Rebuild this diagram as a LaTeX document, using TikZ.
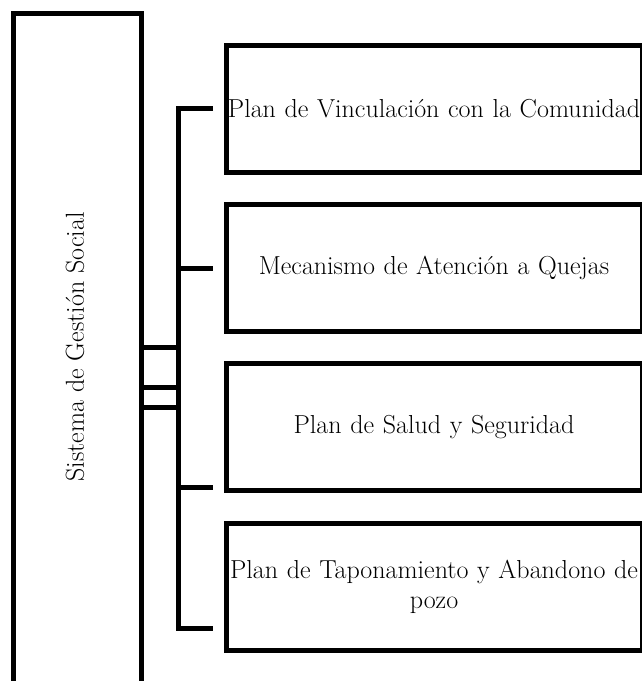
\documentclass[tikz,border=0pt]{standalone}
\begin{document}
\begin{tikzpicture}[
  x=1pt, y=-1pt,
  font=\fontsize{26}{30}\selectfont,
  plan/.style={draw, line width=5pt, minimum width=416pt, minimum height=127pt,
    inner xsep=1pt, text width=414pt, align=center},
  link/.style={draw, line width=5pt}
]
  \useasboundingbox (0,0) rectangle (641,681);
  % main box
  \node[draw, line width=5pt, minimum width=128pt, minimum height=700pt] (sgs) at (77,363) {};
  \node[rotate=90] (sgslbl) at (75,347) {Sistema de Gesti\'on Social};
  % plans
  \node[plan] (vinc) at (434,108.5) {Plan de Vinculaci\'on con la Comunidad};
  \node[plan] (quej) at (434,268) {Mecanismo de Atenci\'on a Quejas};
  \node[plan] (salud) at (434,427) {Plan de Salud y Seguridad};
  \node[plan] (tapon) at (434,587) {Plan de Taponamiento y Abandono de\\pozo};
  % bus
  \coordinate (bustop) at (178,108);
  \coordinate (busbot) at (178,628);
  \coordinate (t1) at (213,108);
  \coordinate (t2) at (213,268);
  \coordinate (t3) at (213,487);
  \coordinate (t4) at (213,628);
  \draw[link, line join=miter] (t1) -- (bustop) -- (busbot) -- (t4);
  \draw[link] (bustop |- t2) -- (t2);
  \draw[link] (bustop |- t3) -- (t3);
  \foreach \y in {347,387,407}
    \draw[link] (sgs.east |- 0,\y) -- (bustop |- 0,\y);
\end{tikzpicture}
\end{document}
